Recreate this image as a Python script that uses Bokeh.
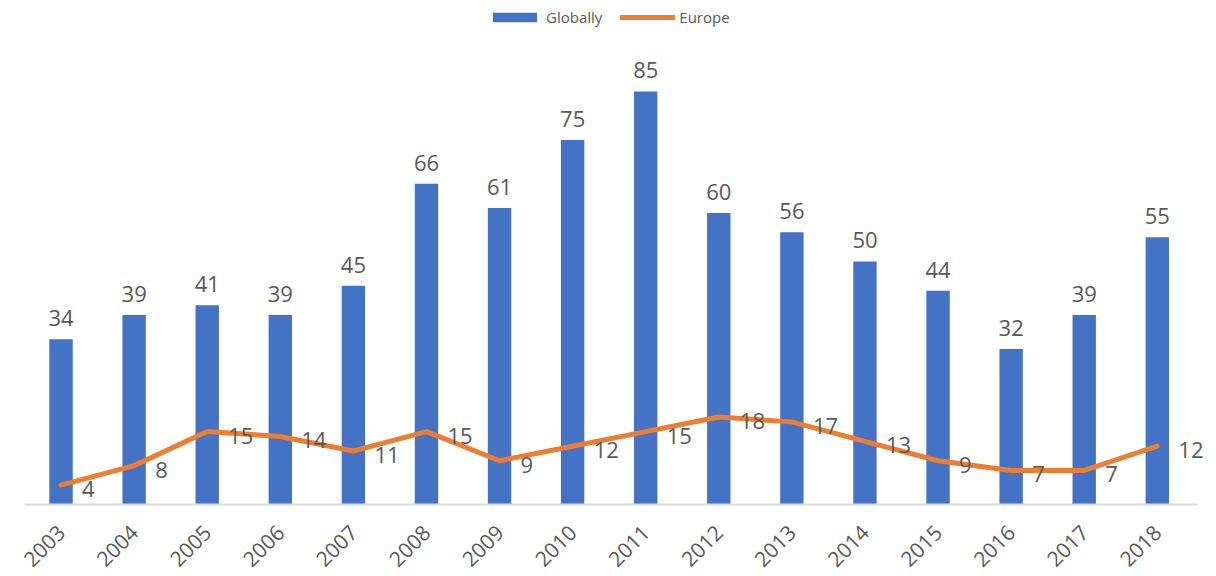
import math
from bokeh.plotting import figure
from bokeh.models import ColumnDataSource, Range1d, Legend, LegendItem, FixedTicker
from bokeh.core.properties import value
from bokeh.embed import file_html
from bokeh.resources import INLINE

years = ["2003", "2004", "2005", "2006", "2007", "2008", "2009", "2010",
         "2011", "2012", "2013", "2014", "2015", "2016", "2017", "2018"]
globally = [34, 39, 41, 39, 45, 66, 61, 75, 85, 60, 56, 50, 44, 32, 39, 55]
europe = [4, 8, 15, 14, 11, 15, 9, 12, 15, 18, 17, 13, 9, 7, 7, 12]

FONT = "Open Sans"
BLUE = "#4472C4"
ORANGE = "#ED7D31"
GREY = "#595959"

xs = [int(y) for y in years]
src = ColumnDataSource(dict(
    x=xs, g=globally, e=europe,
    gl=[str(v) for v in globally], el=[str(v) for v in europe],
))

x0 = xs[0] - 0.5
x1 = xs[-1] + 0.5
p = figure(width=1216, height=576, x_range=Range1d(x0, x1 + 0.31),
           y_range=Range1d(0, 103.7), output_backend="svg", toolbar_location=None,
           min_border_left=24, min_border_right=0, min_border_top=0, min_border_bottom=71)
p.outline_line_color = None
p.xgrid.visible = False
p.ygrid.visible = False
p.yaxis.visible = False

ax = p.xaxis[0]
ax.ticker = FixedTicker(ticks=xs)
ax.major_label_overrides = {x: y for x, y in zip(xs, years)}
ax.bounds = (x0, x1 + 0.05)
ax.axis_line_color = "#D9D9D9"
ax.axis_line_width = 2
ax.major_tick_line_color = None
ax.minor_tick_line_color = None
ax.major_label_orientation = math.pi / 4
ax.major_label_text_font = FONT
ax.major_label_text_font_size = "21px"
ax.major_label_text_color = GREY
ax.major_label_standoff = 18

bars = p.vbar(x="x", top="g", width=0.32, source=src, fill_color=BLUE, line_color=None)
line = p.line(x="x", y="e", source=src, line_color=ORANGE, line_width=5,
              line_join="round", line_cap="round")

p.text(x="x", y="g", text="gl", source=src, text_align="center", text_baseline="bottom",
       y_offset=-13, text_font=value(FONT), text_font_size="22px", text_color=GREY)
p.text(x="x", y="e", text="el", source=src, text_align="left", text_baseline="middle",
       x_offset=21, y_offset=4, text_font=value(FONT), text_font_size="22px", text_color=GREY)

legend = Legend(items=[LegendItem(label="Globally", renderers=[bars]),
                       LegendItem(label="Europe", renderers=[line])],
                orientation="horizontal",
                label_text_font=FONT, label_text_font_size="15px", label_text_color=GREY,
                glyph_width=55, glyph_height=12, spacing=18, label_standoff=4,
                background_fill_alpha=0, border_line_color=None, padding=0, margin=0)
legend.location = (463, 477)
p.add_layout(legend)

open("out.html", "w").write(file_html(p, INLINE))
